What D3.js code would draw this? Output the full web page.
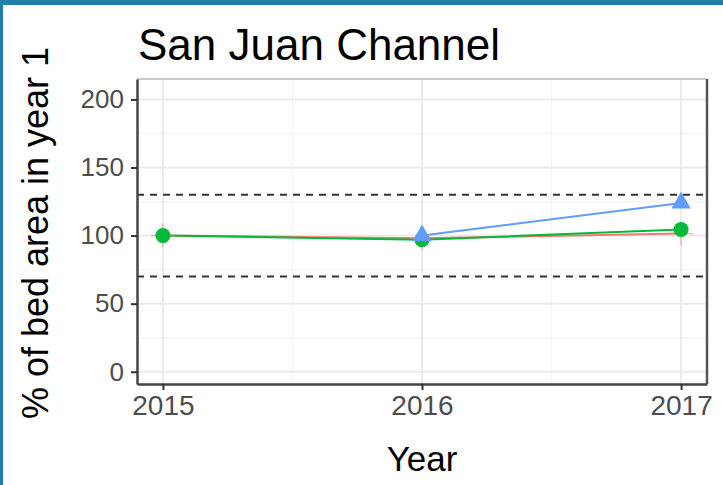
<!DOCTYPE html>
<html>
<head>
<meta charset="utf-8">
<script src="https://cdn.jsdelivr.net/npm/d3@7"></script>
<style>
  body { margin: 0; background: #fff; }
  svg { display: block; font-family: "Liberation Sans", Arial, sans-serif; }
</style>
</head>
<body>
<div id="chart"></div>
<script>
// chart data
var years = [2015, 2016, 2017];
var redValues = [100, 98, 101.5];
var greenValues = [100, 97, 104.5];
var blueValues = [null, 100, 124];
var yTicks = [0, 50, 100, 150, 200];
var yMinor = [25, 75, 125, 175];
var xMinor = [2015.5, 2016.5];
var refLines = [70, 130];

var svgWidth = 723;
var svgHeight = 485;

var margin = { top: 79, right: 16, bottom: 101, left: 137 };
var width = svgWidth - margin.left - margin.right;
var height = svgHeight - margin.top - margin.bottom;

var svg = d3.select("#chart")
  .append("svg")
  .attr("width", svgWidth)
  .attr("height", svgHeight);

// teal frame from the screenshot
svg.append("rect").attr("x", 0).attr("y", 0).attr("width", svgWidth).attr("height", 5).attr("fill", "#1f7fa6");
svg.append("rect").attr("x", 0).attr("y", 0).attr("width", 3).attr("height", svgHeight).attr("fill", "#1f7fa6");

var chartGroup = svg.append("g")
  .attr("transform", `translate(${margin.left}, ${margin.top})`);

var xScale = d3.scaleLinear()
  .domain([2014.9, 2017.1])
  .range([0, width]);

var yScale = d3.scaleLinear()
  .domain([-9, 215])
  .range([height, 0]);

// grid lines
chartGroup.selectAll(".minorY")
  .data(yMinor)
  .enter()
  .append("line")
  .attr("x1", 0).attr("x2", width)
  .attr("y1", d => yScale(d)).attr("y2", d => yScale(d))
  .attr("stroke", "#f4f4f4").attr("stroke-width", 1.2);

chartGroup.selectAll(".minorX")
  .data(xMinor)
  .enter()
  .append("line")
  .attr("y1", 0).attr("y2", height)
  .attr("x1", d => xScale(d)).attr("x2", d => xScale(d))
  .attr("stroke", "#f4f4f4").attr("stroke-width", 1.2);

chartGroup.selectAll(".majorY")
  .data(yTicks)
  .enter()
  .append("line")
  .attr("x1", 0).attr("x2", width)
  .attr("y1", d => yScale(d)).attr("y2", d => yScale(d))
  .attr("stroke", "#ebebeb").attr("stroke-width", 2);

chartGroup.selectAll(".majorX")
  .data(years)
  .enter()
  .append("line")
  .attr("y1", 0).attr("y2", height)
  .attr("x1", d => xScale(d)).attr("x2", d => xScale(d))
  .attr("stroke", "#ebebeb").attr("stroke-width", 2);

// dashed reference lines
chartGroup.selectAll(".ref")
  .data(refLines)
  .enter()
  .append("line")
  .attr("x1", 0).attr("x2", width)
  .attr("y1", d => yScale(d)).attr("y2", d => yScale(d))
  .attr("stroke", "#333").attr("stroke-width", 2)
  .attr("stroke-dasharray", "7,6");

// series lines
var line = d3.line()
  .defined(d => d.v !== null)
  .x(d => xScale(d.year))
  .y(d => yScale(d.v));

function pts(values) {
  return years.map((y, i) => ({ year: y, v: values[i] }));
}

var series = [
  { values: redValues, color: "#F8766D" },
  { values: greenValues, color: "#00BA38" },
  { values: blueValues, color: "#619CFF" }
];

series.forEach(function(s) {
  chartGroup.append("path")
    .datum(pts(s.values))
    .attr("fill", "none")
    .attr("stroke", s.color)
    .attr("stroke-width", 2)
    .attr("d", line);
});

// red plus markers
chartGroup.selectAll(".redPt")
  .data(pts(redValues))
  .enter()
  .append("path")
  .attr("transform", d => `translate(${xScale(d.year)},${yScale(d.v)})`)
  .attr("d", "M-12,0H12M0,-12V12")
  .attr("stroke", "#F8766D")
  .attr("stroke-opacity", 0.6)
  .attr("stroke-width", 1.2);

// green circles
chartGroup.selectAll(".greenPt")
  .data(pts(greenValues))
  .enter()
  .append("circle")
  .attr("cx", d => xScale(d.year))
  .attr("cy", d => yScale(d.v))
  .attr("r", 7.5)
  .attr("fill", "#00BA38");

// blue triangles
chartGroup.selectAll(".bluePt")
  .data(pts(blueValues).filter(d => d.v !== null))
  .enter()
  .append("path")
  .attr("transform", d => `translate(${xScale(d.year)},${yScale(d.v)})`)
  .attr("d", d3.symbol().type(d3.symbolTriangle).size(160))
  .attr("fill", "#619CFF");

// panel border
chartGroup.append("line")
  .attr("x1", 0).attr("x2", width).attr("y1", 0).attr("y2", 0)
  .attr("stroke", "#c8c8c8").attr("stroke-width", 2);
chartGroup.append("line")
  .attr("x1", width).attr("x2", width).attr("y1", 0).attr("y2", height)
  .attr("stroke", "#555").attr("stroke-width", 2.5);

// axes
var bottomAxis = d3.axisBottom(xScale)
  .tickValues(years)
  .tickFormat(d3.format("d"))
  .tickSizeInner(6).tickSizeOuter(0).tickPadding(5);

var leftAxis = d3.axisLeft(yScale)
  .tickValues(yTicks)
  .tickSizeInner(6).tickSizeOuter(0).tickPadding(7);

var xAxis = chartGroup.append("g")
  .attr("transform", `translate(0, ${height})`)
  .call(bottomAxis);

var yAxis = chartGroup.append("g")
  .call(leftAxis);

[xAxis, yAxis].forEach(function(a) {
  a.select(".domain").attr("stroke", "#444").attr("stroke-width", 2.5);
  a.selectAll(".tick line").attr("stroke", "#333").attr("stroke-width", 2);
  a.selectAll(".tick text")
    .attr("fill", "#4d4d4d")
    .style("font-family", "Liberation Sans, Arial, sans-serif");
});
xAxis.selectAll(".tick text").style("font-size", "28px");
yAxis.selectAll(".tick text").style("font-size", "26px");

// title and axis labels
svg.append("text")
  .attr("x", 138)
  .attr("y", 60)
  .attr("fill", "#000")
  .style("font-size", "44px")
  .text("San Juan Channel");

svg.append("text")
  .attr("x", margin.left + xScale(2016))
  .attr("y", 471)
  .attr("text-anchor", "middle")
  .attr("fill", "#000")
  .style("font-size", "35px")
  .text("Year");

svg.append("text")
  .attr("transform", "rotate(-90)")
  .attr("x", -233)
  .attr("y", 48)
  .attr("text-anchor", "middle")
  .attr("fill", "#000")
  .style("font-size", "36px")
  .text("% of bed area in year 1");
</script>
</body>
</html>
